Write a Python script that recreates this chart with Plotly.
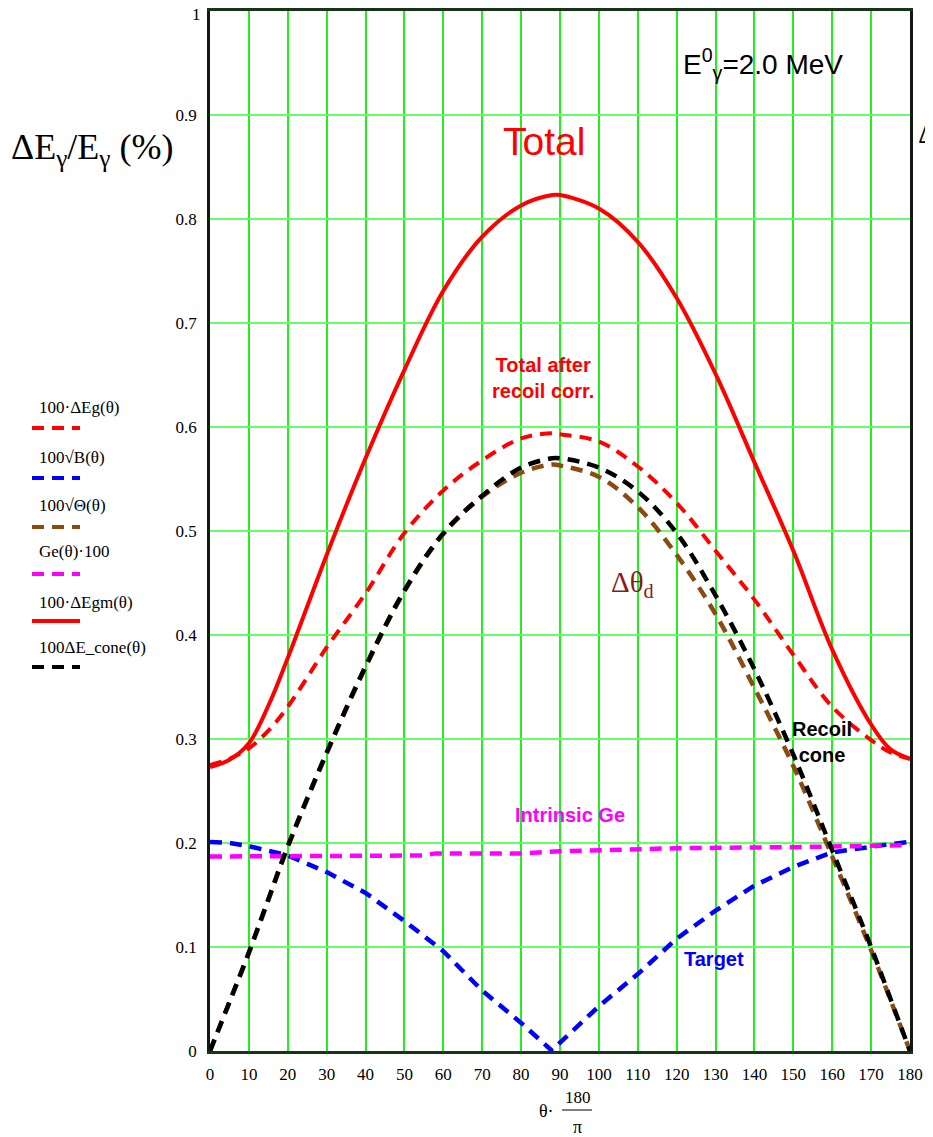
import plotly.graph_objects as go

# ---------------- data ----------------
theta = [0, 5, 10, 15, 20, 30, 40, 50, 60, 70, 80, 88, 90, 100, 110, 120, 130, 140, 150, 160, 170, 175, 180]

total = [0.273, 0.280, 0.296, 0.332, 0.378, 0.477, 0.570, 0.655, 0.731, 0.783, 0.813, 0.823, 0.823,
         0.810, 0.778, 0.724, 0.651, 0.566, 0.481, 0.386, 0.314, 0.290, 0.281]
total_corr = [0.275, 0.281, 0.291, 0.308, 0.331, 0.388, 0.440, 0.498, 0.539, 0.568, 0.589, 0.594, 0.593,
              0.586, 0.562, 0.527, 0.481, 0.434, 0.381, 0.331, 0.299, 0.287, 0.281]
cone = [0.0, 0.047, 0.095, 0.146, 0.197, 0.287, 0.370, 0.443, 0.498, 0.534, 0.561, 0.570, 0.570,
        0.561, 0.538, 0.498, 0.438, 0.367, 0.285, 0.193, 0.100, 0.050, 0.0]
theta_d = [0.0, 0.047, 0.094, 0.145, 0.196, 0.286, 0.369, 0.442, 0.497, 0.533, 0.556, 0.564, 0.563,
           0.552, 0.523, 0.477, 0.420, 0.349, 0.274, 0.187, 0.097, 0.049, 0.0]
target = [0.201, 0.200, 0.197, 0.193, 0.188, 0.172, 0.152, 0.125, 0.096, 0.058, 0.027, 0.0, 0.008,
          0.043, 0.074, 0.108, 0.135, 0.159, 0.177, 0.191, 0.197, 0.199, 0.201]
theta_ge = [0, 20, 40, 55, 58, 80, 90, 120, 150, 180]
ge = [0.187, 0.187, 0.188, 0.188, 0.190, 0.190, 0.192, 0.195, 0.196, 0.198]

x_ticks = list(range(0, 181, 10))
y_ticks = [0, 0.1, 0.2, 0.3, 0.4, 0.5, 0.6, 0.7, 0.8, 0.9, 1]
y_tick_text = ["0", "0.1", "0.2", "0.3", "0.4", "0.5", "0.6", "0.7", "0.8", "0.9", "1"]

legend_labels = ["100·ΔEg(θ)", "100√B(θ)", "100√Θ(θ)", "Ge(θ)·100", "100·ΔEgm(θ)", "100ΔE_cone(θ)"]

# ---------------- layout geometry ----------------
OX, OY = 8, 8                      # page body margin
W, H = 933 - OX, 1137 - OY
L, R, T, B = 202, 23, 3, 86
PW, PH = W - L - R, H - T - B


def px(xs):
    return (xs - OX - L) / PW


def py(ys):
    return (OY + H - B - ys) / PH


RED = "#ff0000"
BLUE = "#0000ff"
BROWN = "#8a4b12"
MAG = "#ff00ff"
BLACK = "#000000"
DASH = "12px,8px"

fig = go.Figure()

fig.add_trace(go.Scatter(x=theta, y=total_corr, mode="lines", name=legend_labels[0],
                         line=dict(color=RED, width=4, dash=DASH, shape="spline")))
fig.add_trace(go.Scatter(x=theta, y=target, mode="lines", name=legend_labels[1],
                         line=dict(color=BLUE, width=4.5, dash=DASH)))
fig.add_trace(go.Scatter(x=theta, y=theta_d, mode="lines", name=legend_labels[2],
                         line=dict(color=BROWN, width=4.5, dash=DASH, shape="spline")))
fig.add_trace(go.Scatter(x=theta_ge, y=ge, mode="lines", name=legend_labels[3],
                         line=dict(color=MAG, width=4.5, dash=DASH)))
fig.add_trace(go.Scatter(x=theta, y=total, mode="lines", name=legend_labels[4],
                         line=dict(color=RED, width=4, shape="spline")))
fig.add_trace(go.Scatter(x=theta, y=cone, mode="lines", name=legend_labels[5],
                         line=dict(color=BLACK, width=4.5, dash=DASH, shape="spline")))

# ---------------- custom legend (label above line sample) ----------------
legend_colors = [RED, BLUE, BROWN, MAG, RED, BLACK]
legend_dash = [DASH, DASH, DASH, DASH, "solid", DASH]
label_y = [407, 457, 505, 552, 602, 647]
line_y = [428, 478, 527, 574, 621, 667]
shapes = []
annotations = []
for lab, col, d, ly, sy in zip(legend_labels, legend_colors, legend_dash, label_y, line_y):
    annotations.append(dict(x=px(37), y=py(ly), xref="paper", yref="paper", text=lab,
                            showarrow=False, xanchor="left", yanchor="middle",
                            font=dict(family="Liberation Serif", size=17, color="black")))
    shapes.append(dict(type="line", xref="paper", yref="paper", x0=px(32), x1=px(80),
                       y0=py(sy), y1=py(sy), line=dict(color=col, width=4, dash=d)))


def ann(x, y, text, size, color, family="Liberation Sans", xanchor="center", bold=False):
    if bold:
        text = "<b>" + text + "</b>"
    annotations.append(dict(x=px(x), y=py(y), xref="paper", yref="paper", text=text,
                            showarrow=False, xanchor=xanchor, yanchor="middle",
                            font=dict(family=family, size=size, color=color)))


ann(544, 141, "Total", 39, RED)
ann(543, 378, "Total after<br>recoil corr.", 20, RED, bold=True)
ann(632, 584, "Δθ<sub>d</sub>", 29, "#8b1a1a", family="Liberation Serif")
ann(790, 742, "Recoil<br>cone", 20, BLACK, xanchor="left", bold=True)
ann(570, 815, "Intrinsic Ge", 20, MAG, bold=True)
ann(714, 959, "Target", 20, BLUE, bold=True)
ann(681, 64, "E<sup>0</sup><sub>γ</sub>=2.0 MeV", 28, BLACK, xanchor="left")
ann(9, 150, "ΔE<sub>γ</sub>/E<sub>γ</sub> (%)", 36, BLACK, family="Liberation Serif", xanchor="left")
ann(916, 132, "Δ", 31, BLACK, family="Liberation Serif", xanchor="left")
# top tick label "1" placed a little lower so it is not clipped by the page edge
ann(203, 15, y_tick_text[-1], 17, BLACK, family="Liberation Serif", xanchor="right")
# x-axis title as a fraction
ann(546, 1111, "θ·", 18, BLACK, family="Liberation Serif")
ann(578, 1097, "180", 17, BLACK, family="Liberation Serif")
ann(577, 1127, "π", 18, BLACK, family="Liberation Serif")
shapes.append(dict(type="line", xref="paper", yref="paper", x0=px(562), x1=px(592),
                   y0=py(1110), y1=py(1110), line=dict(color="black", width=1)))

fig.update_layout(
    width=W, height=H, autosize=False,
    margin=dict(l=L, r=R, t=T, b=B, pad=0, autoexpand=False),
    paper_bgcolor="white", plot_bgcolor="white",
    showlegend=False,
    shapes=shapes, annotations=annotations,
    xaxis=dict(range=[0, 180], tickvals=x_ticks, ticktext=[str(v) for v in x_ticks],
               showgrid=True, gridcolor="#22ee22", gridwidth=1.5, automargin=False,
               showline=True, linecolor="#173417", linewidth=3, mirror=True,
               ticks="", ticklabelstandoff=6, zeroline=False, ticklabeloverflow="allow",
               tickfont=dict(family="Liberation Serif", size=17, color="black")),
    yaxis=dict(range=[0, 1], tickvals=y_ticks, ticktext=y_tick_text[:-1] + [""],
               showgrid=True, gridcolor="#66ff66", gridwidth=2, automargin=False,
               showline=True, linecolor="#101a10", linewidth=2.5, mirror=True,
               ticks="", ticklabelstandoff=7, zeroline=False, ticklabeloverflow="allow",
               tickfont=dict(family="Liberation Serif", size=17, color="black")),
)

fig.write_html("out.html")
